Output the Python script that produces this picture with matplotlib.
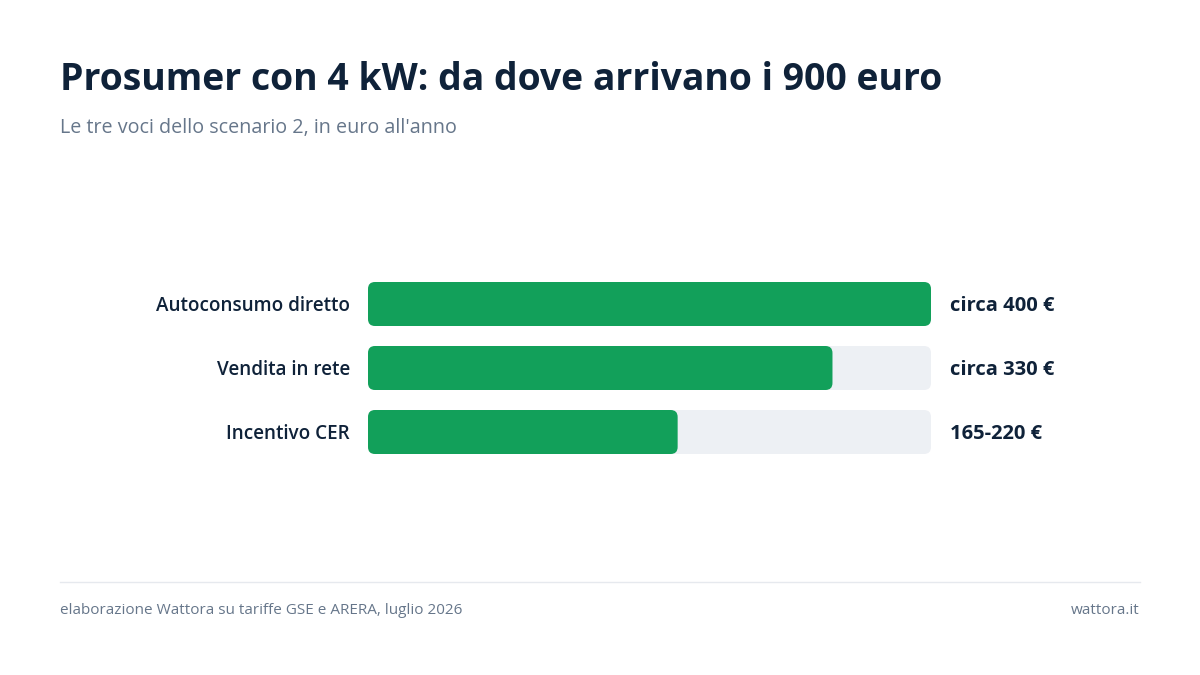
import matplotlib
matplotlib.use("Agg")
import matplotlib.pyplot as plt
from matplotlib.patches import FancyBboxPatch

# data
categories = ["Autoconsumo diretto", "Vendita in rete", "Incentivo CER"]
values = [400, 330, 220]          # bar length (upper end for CER)
value_labels = ["circa 400 €", "circa 330 €", "165-220 €"]
scale_max = 400

title = "Prosumer con 4 kW: da dove arrivano i 900 euro"
subtitle = "Le tre voci dello scenario 2, in euro all'anno"
source = "elaborazione Wattora su tariffe GSE e ARERA, luglio 2026"
site = "wattora.it"

DARK = "#0f2239"
GREY = "#66768a"
GREEN = "#12a05a"
TRACK = "#edf0f4"

plt.rcParams["font.family"] = ["Open Sans", "DejaVu Sans"]

W, H = 1200, 675
fig = plt.figure(figsize=(12, 6.75), dpi=100)
fig.patch.set_facecolor("white")

# header and footer
fig.text(60 / W, 1 - 80 / H, title, fontsize=26.9, fontweight="bold", color=DARK, va="center", ha="left")
fig.text(60 / W, 1 - 128 / H, subtitle, fontsize=14.2, color=GREY, va="center", ha="left")
fig.add_artist(plt.Line2D([60 / W, 1140 / W], [1 - 582 / H, 1 - 582 / H], color="#e6e9ee", lw=1))
fig.text(60 / W, 1 - 610 / H, source, fontsize=11, color=GREY, va="center", ha="left")
fig.text(1140 / W, 1 - 610 / H, site, fontsize=11, color=GREY, va="center", ha="right")

# bar area
x0, x1 = 368, 931
y_top, y_bot = 272, 464
ax = fig.add_axes([x0 / W, 1 - y_bot / H, (x1 - x0) / W, (y_bot - y_top) / H])
ax.set_xlim(0, scale_max)
ax.set_ylim(len(categories) - 0.5, -0.5)
ax.axis("off")

px_x = (x1 - x0) / scale_max          # px per x unit
px_y = (y_bot - y_top) / len(categories)  # px per y unit
aspect = (1 / px_y) / (1 / px_x)
bar_h = 44 / px_y
rad = 7 / px_x
nudge = 2 / px_y   # text sits a touch low in the reference

for i, (cat, v, lab) in enumerate(zip(categories, values, value_labels)):
    track = FancyBboxPatch((0, i - bar_h / 2), scale_max, bar_h,
                           boxstyle=f"round,pad=0,rounding_size={rad}",
                           mutation_aspect=aspect, fc=TRACK, ec="none")
    ax.add_patch(track)
    bar = FancyBboxPatch((0, i - bar_h / 2), v, bar_h,
                         boxstyle=f"round,pad=0,rounding_size={rad}",
                         mutation_aspect=aspect, fc=GREEN, ec="none")
    ax.add_patch(bar)
    ax.text(-18 / px_x, i + nudge, cat, ha="right", va="center", fontsize=13.6, color=DARK,
            fontweight="semibold", clip_on=False)
    ax.text(scale_max + 19 / px_x, i + nudge, lab, ha="left", va="center", fontsize=14.5,
            color=DARK, fontweight="bold", clip_on=False)

fig.savefig("out.png", dpi=100, facecolor="white")
